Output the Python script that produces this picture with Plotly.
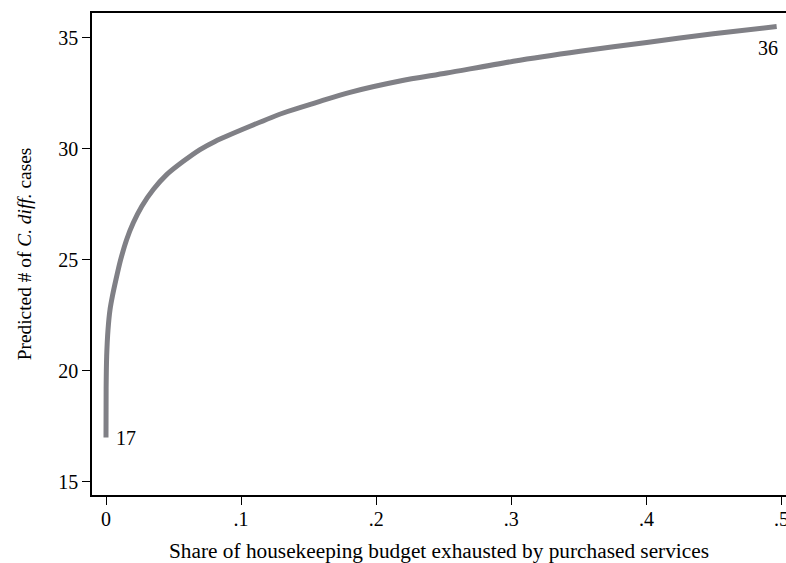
import plotly.graph_objects as go

# Data
share = [0.0, 0.0001, 0.0005, 0.0015, 0.003, 0.0048, 0.0074, 0.0109, 0.0153,
         0.0202, 0.0264, 0.0350, 0.0449, 0.0572, 0.0696, 0.0807, 0.1066,
         0.1312, 0.156, 0.1806, 0.2176, 0.2522, 0.3015, 0.3509, 0.4002,
         0.4495, 0.4964]
predicted = [17.0, 19.2, 20.66, 21.86, 22.77, 23.38, 24.12, 25.02, 25.92,
             26.67, 27.41, 28.17, 28.84, 29.44, 29.97, 30.34, 31.02,
             31.62, 32.10, 32.55, 33.06, 33.42, 33.95, 34.40, 34.80,
             35.19, 35.52]
x_ticks = [0, 0.1, 0.2, 0.3, 0.4, 0.5]
x_ticklabels = ["0", ".1", ".2", ".3", ".4", ".5"]
y_ticks = [15, 20, 25, 30, 35]

FONT = "Liberation Serif, Times New Roman, serif"

fig = go.Figure()
fig.add_trace(go.Scatter(
    x=share, y=predicted, mode="lines",
    line=dict(color="#808086", width=5, shape="spline", smoothing=0.8),
    hoverinfo="skip", showlegend=False,
))

fig.add_annotation(x=share[0], y=predicted[0], text=str(round(predicted[0])),
                   showarrow=False, xanchor="left", yanchor="middle",
                   xshift=8, yshift=-1, font=dict(family=FONT, size=20, color="black"))
fig.add_annotation(x=share[-1], y=predicted[-1], text=str(round(predicted[-1])),
                   showarrow=False, xanchor="center", yanchor="top",
                   xshift=-9, yshift=-9, font=dict(family=FONT, size=20, color="black"))

fig.update_layout(
    width=786, height=563,
    margin=dict(l=92, r=0, t=13, b=68, autoexpand=False),
    paper_bgcolor="white", plot_bgcolor="white",
    font=dict(family=FONT, size=20, color="black"),
    xaxis=dict(
        range=[-0.01036, 0.5033],
        tickvals=x_ticks, ticktext=x_ticklabels,
        ticks="outside", ticklen=8, tickwidth=1.3, tickcolor="black",
        showline=True, linecolor="black", linewidth=1.5, mirror=True,
        showgrid=False, zeroline=False, automargin=False,
        ticklabeloverflow="allow", ticklabelstandoff=-3,
        tickfont=dict(family=FONT, size=20, color="black"),
        title=dict(text="Share of housekeeping budget exhausted by purchased services",
                   font=dict(family=FONT, size=21.3, color="black"), standoff=22),
    ),
    yaxis=dict(
        range=[14.405, 36.126],
        tickvals=y_ticks,
        ticks="outside", ticklen=8, tickwidth=1.3, tickcolor="black",
        showline=True, linecolor="black", linewidth=1.5, mirror=False,
        showgrid=False, zeroline=False, automargin=False,
        tickfont=dict(family=FONT, size=20, color="black"),
        title=dict(text="Predicted # of <i>C. diff.</i> cases",
                   font=dict(family=FONT, size=19.4, color="black"), standoff=21),
    ),
)

fig.write_html("out.html", config={"displayModeBar": False},
               post_script="document.body.style.margin='0px';")
